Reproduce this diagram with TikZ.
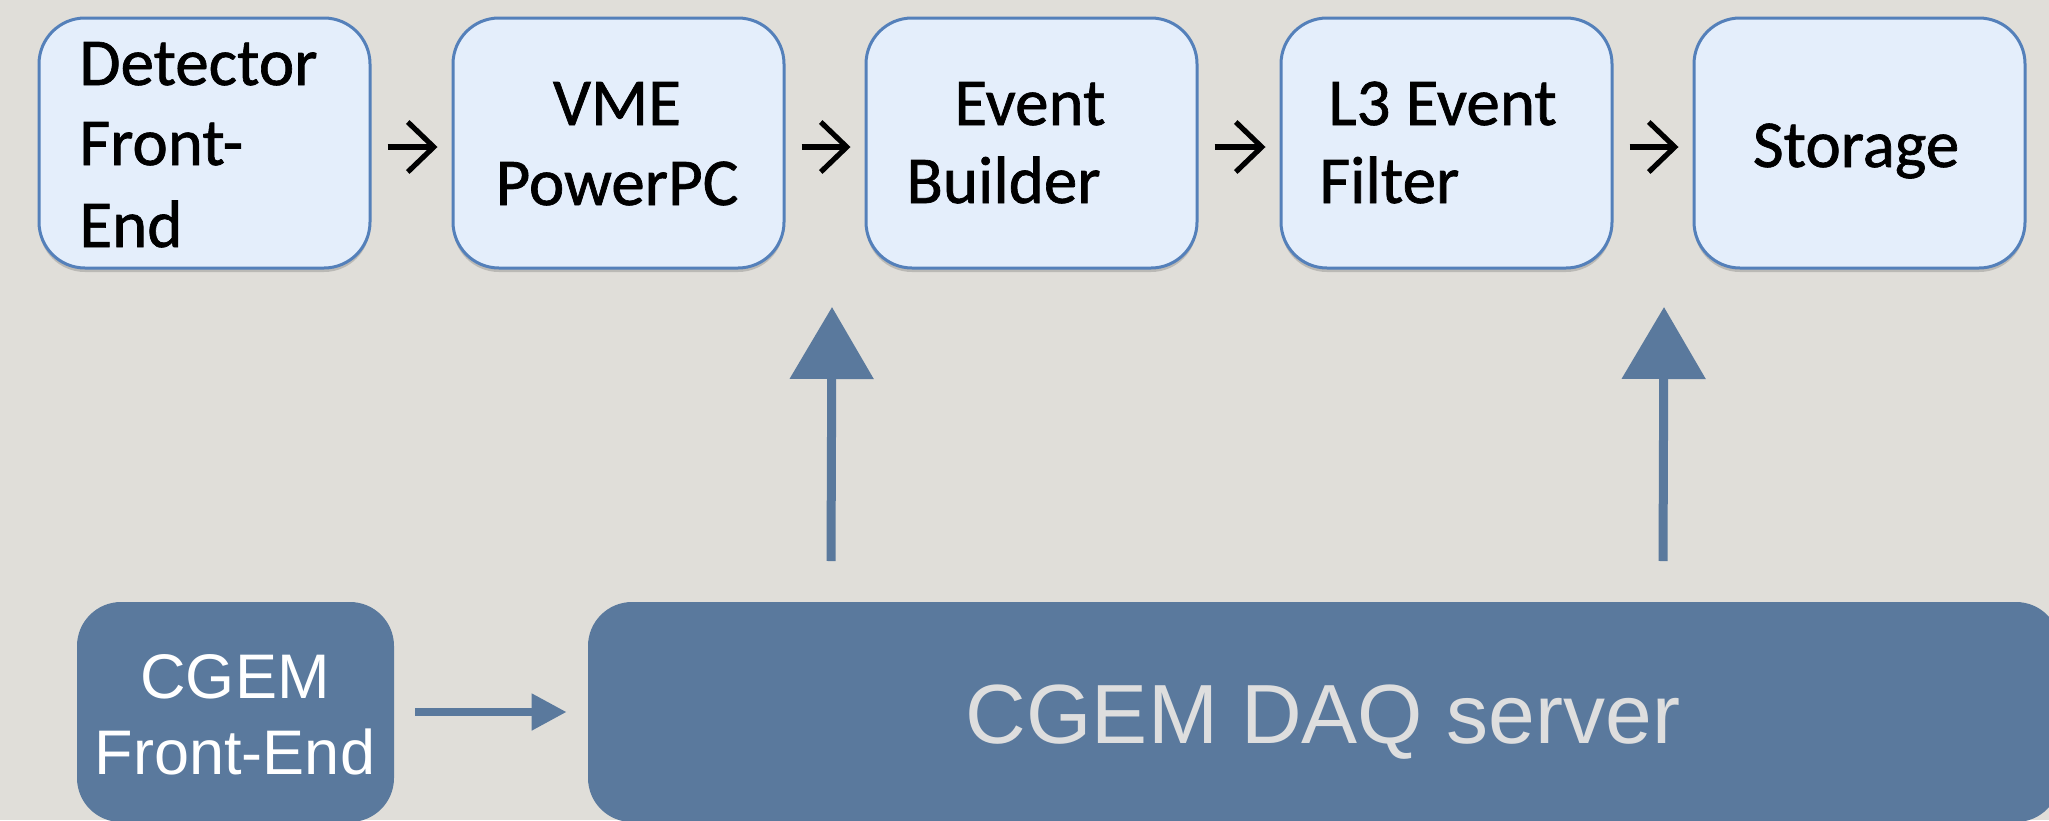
\documentclass[tikz,border=0pt]{standalone}
\usepackage{fontspec}
\setmainfont{Carlito}[FakeBold=1]
\newfontfamily\helv{Liberation Sans}
\usetikzlibrary{arrows.meta,shadows}
\definecolor{paper}{RGB}{224,222,217}
\definecolor{boxfill}{RGB}{228,238,251}
\definecolor{boxline}{RGB}{84,128,186}
\definecolor{slate}{RGB}{90,121,157}
\definecolor{daqtext}{RGB}{222,222,222}
\begin{document}
\begin{tikzpicture}[x=0.5pt,y=-0.5pt,
  topbox/.style={draw=boxline, line width=1.5pt, fill=boxfill, rounded corners=23pt,
    minimum width=165.5pt, minimum height=125pt, inner sep=0pt,
    drop shadow={shadow xshift=0pt, shadow yshift=-2pt, opacity=0.25, fill=black!70}},
  botbox/.style={fill=slate, rounded corners=22pt, minimum height=110pt, inner sep=0pt},
  toptext/.style={font=\fontsize{33.5pt}{40pt}\selectfont, inner sep=0pt, text=black},
  cgemtext/.style={font=\helv\fontsize{31.5pt}{38pt}\selectfont, inner sep=0pt, text=white},
  daqlabel/.style={font=\helv\fontsize{42pt}{50pt}\selectfont, inner sep=0pt, text=daqtext},
  chev/.style={-{Straight Barb[length=13pt,width=25pt]}, line width=2.6pt, black},
  flatarrow/.style={-{Triangle[length=17.5pt,width=17.5pt]}, line width=4pt, slate},
  handarrow/.style={-{Triangle[length=36pt,width=41pt]}, line width=4.5pt, slate}
]
\useasboundingbox (0,0) rectangle (2049,820);
\clip (0,0) rectangle (2049,820);
\fill[paper] (0,0) rectangle (2049,820);

% top row boxes
\node[topbox] (det) at (204.5,143) {};
\node[topbox] (vme) at (618.5,143) {};
\node[topbox] (evb) at (1031.5,143) {};
\node[topbox] (lthree) at (1446.5,143) {};
\node[topbox] (stor) at (1859.5,143) {};

% top row texts
\node[toptext, anchor=base west] (t1a) at (79,85) {Detector};
\node[toptext, anchor=base west] (t1b) at (79,165) {Front-};
\node[toptext, anchor=base west] (t1c) at (79,247) {End};
\node[toptext, anchor=base] (t2a) at (617,125) {VME};
\node[toptext, anchor=base] (t2b) at (617,205) {PowerPC};
\node[toptext, anchor=base west] (t3a) at (954,125) {Event};
\node[toptext, anchor=base west] (t3b) at (906,203) {Builder};
\node[toptext, anchor=base west] (t4a) at (1328,125) {L3 Event};
\node[toptext, anchor=base west] (t4b) at (1319,203) {Filter};
\node[toptext, anchor=base] (t5a) at (1856,167) {Storage};

% top arrows
\draw[chev, shorten <=8pt, shorten >=7pt] ([yshift=-2pt]det.east) -- ([yshift=-2pt]vme.west);
\draw[chev, shorten <=8pt, shorten >=7pt] ([yshift=-2pt]vme.east) -- ([yshift=-2pt]evb.west);
\draw[chev, shorten <=8pt, shorten >=7pt] ([yshift=-2pt]evb.east) -- ([yshift=-2pt]lthree.west);
\draw[chev, shorten <=8pt, shorten >=7pt] ([yshift=-2pt]lthree.east) -- ([yshift=-2pt]stor.west);

% bottom boxes
\node[botbox, minimum width=158.5pt] (cgem) at (235.5,712) {};
\node[botbox, minimum width=736pt] (daq) at (1324,712) {};
\node[cgemtext, anchor=base] (c1) at (235,698) {CGEM};
\node[cgemtext, anchor=base] (c2) at (235,774) {Front-End};
\node[daqlabel, anchor=base] (d1) at (1323,743) {CGEM DAQ server};

\draw[flatarrow, shorten <=10.5pt, shorten >=10.5pt] (cgem) -- (daq);

% hand-drawn upward arrows
\coordinate (ua1) at (831,561);
\coordinate (ub1) at (832,307);
\coordinate (ua2) at (1663,561);
\coordinate (ub2) at (1664,307);
\draw[handarrow] (ua1) -- (ub1);
\draw[handarrow] (ua2) -- (ub2);
\end{tikzpicture}
\end{document}
